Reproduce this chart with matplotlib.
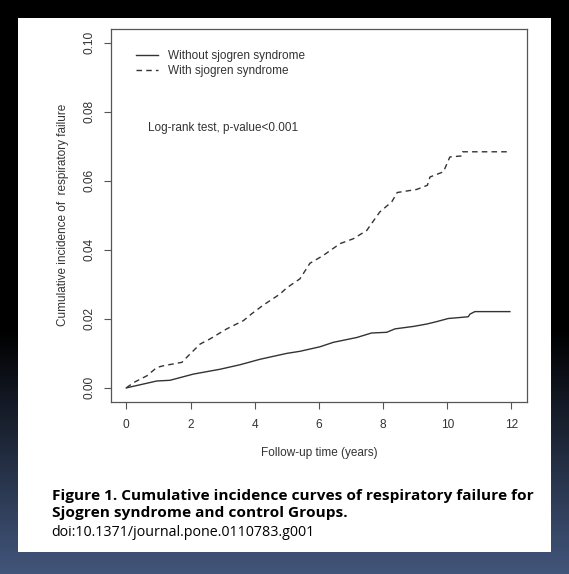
import numpy as np
import matplotlib
matplotlib.use('Agg')
import matplotlib.pyplot as plt
from matplotlib.patches import Rectangle

# データ
with_years = [0.00, 0.22, 0.64, 0.95, 1.15, 1.73, 1.93, 2.30, 2.61, 3.13, 3.65, 3.91,
              4.27, 4.79, 5.00, 5.41, 5.72, 6.14, 6.66, 7.07, 7.49, 7.64, 7.90, 8.27,
              8.44, 9.05, 9.38, 9.46, 9.88, 10.08, 10.45, 10.48, 11.90]
with_cuminc = [0.0000, 0.0015, 0.0035, 0.0059, 0.0064, 0.0074, 0.0093, 0.0127, 0.0142,
               0.0171, 0.0195, 0.0215, 0.0240, 0.0272, 0.0290, 0.0316, 0.0361, 0.0384,
               0.0418, 0.0432, 0.0456, 0.0476, 0.0510, 0.0539, 0.0566, 0.0575, 0.0587,
               0.0611, 0.0626, 0.0669, 0.0672, 0.0684, 0.0684]

without_years = [0.00, 0.95, 1.36, 2.09, 2.92, 3.54, 4.17, 5.00, 5.41, 6.03, 6.45, 7.18,
                 7.64, 8.11, 8.37, 8.94, 9.36, 9.67, 10.03, 10.65, 10.71, 10.86, 11.95]
without_cuminc = [0.0000, 0.0020, 0.0022, 0.0040, 0.0054, 0.0067, 0.0083, 0.0100, 0.0106,
                  0.0119, 0.0132, 0.0146, 0.0159, 0.0161, 0.0171, 0.0178, 0.0185, 0.0192,
                  0.0201, 0.0206, 0.0214, 0.0221, 0.0221]

x_ticks = [0, 2, 4, 6, 8, 10, 12]
y_ticks = [0.00, 0.02, 0.04, 0.06, 0.08, 0.10]
y_tick_labels = ['0.00', '0.02', '0.04', '0.06', '0.08', '0.10']

legend_labels = ['Without sjogren syndrome', 'With sjogren syndrome']
caption_lines = ['Figure 1. Cumulative incidence curves of respiratory failure for',
                 'Sjogren syndrome and control Groups.']
doi_text = 'doi:10.1371/journal.pone.0110783.g001'

W, H = 569, 574
plt.rcParams['font.family'] = ['Liberation Sans', 'DejaVu Sans']
ink = '#333333'

fig = plt.figure(figsize=(W / 100, H / 100), dpi=100)

# 背景（黒→青のグラデーション）と白いパネル
bg = fig.add_axes([0, 0, 1, 1])
bg.axis('off')
rows = np.arange(H)
t = np.clip((rows - 330) / (H - 330), 0, 1)
bottom_rgb = np.array([66, 86, 124]) / 255
grad = t[:, None, None] * bottom_rgb[None, None, :]
grad = np.repeat(grad, 2, axis=1)
bg.imshow(grad, aspect='auto', extent=[0, 1, 0, 1], origin='upper')
bg.set_xlim(0, 1)
bg.set_ylim(0, 1)
bg.add_patch(Rectangle((18 / W, 1 - 552 / H), (551 - 18) / W, (552 - 18) / H,
                       transform=bg.transAxes, facecolor='white', edgecolor='none'))

# プロット本体
ax_l, ax_r, ax_t, ax_b = 110.9, 526.9, 28.9, 401.7
ax = fig.add_axes([ax_l / W, 1 - ax_b / H, (ax_r - ax_l) / W, (ax_b - ax_t) / H])
ax.patch.set_alpha(0)

ax.plot(without_years, without_cuminc, color=ink, lw=1.0, label=legend_labels[0])
ax.plot(with_years, with_cuminc, color=ink, lw=1.0, ls=(0, (4, 3)), label=legend_labels[1])

ax.set_xlim(-0.48, 12.48)
ax.set_ylim(-0.004, 0.104)
ax.set_xticks(x_ticks)
ax.set_yticks(y_ticks)
ax.set_yticklabels(y_tick_labels, rotation=90, va='center')
ax.tick_params(direction='out', length=4.8, width=0.8, colors='#555555',
               labelcolor=ink, labelsize=8.6)
ax.tick_params(axis='x', pad=8)
ax.tick_params(axis='y', pad=6)
for sp in ax.spines.values():
    sp.set_color('#555555')
    sp.set_linewidth(0.9)

ax.set_xlabel('Follow-up time (years)', fontsize=8.5, color=ink)
ax.xaxis.set_label_coords(0.5, (ax_b - 453) / (ax_b - ax_t))
ax.xaxis.label.set_va('center')
ax.set_ylabel('Cumulative incidence of  respiratory failure', fontsize=8.5, color=ink)
ax.yaxis.set_label_coords((62.7 - ax_l) / (ax_r - ax_l), 0.5)
ax.yaxis.label.set_va('center')

leg = ax.legend(loc='upper left', bbox_to_anchor=((136 - ax_l) / (ax_r - ax_l),
                                                  (ax_b - 50) / (ax_b - ax_t)),
                frameon=False, fontsize=8.5, handlelength=1.9, handletextpad=0.85,
                labelspacing=0.25, borderpad=0, borderaxespad=0)
for txt in leg.get_texts():
    txt.set_color(ink)

ax.text((148 - ax_l) / (ax_r - ax_l), (ax_b - 127.7) / (ax_b - ax_t),
        'Log-rank test, p-value<0.001', transform=ax.transAxes,
        fontsize=8.5, color=ink, va='center', ha='left')

# キャプション
cap_font = ['Open Sans', 'DejaVu Sans']
fig.text(51.7 / W, 1 - 500 / H, caption_lines[0], family=cap_font, fontweight='bold',
         fontsize=11.1, color='black', va='baseline')
fig.text(51.7 / W, 1 - 517 / H, caption_lines[1], family=cap_font, fontweight='bold',
         fontsize=11.1, color='black', va='baseline')
fig.text(51.7 / W, 1 - 536 / H, doi_text, family=cap_font,
         fontsize=10.3, color='black', va='baseline')

fig.savefig('out.png', dpi=100)
